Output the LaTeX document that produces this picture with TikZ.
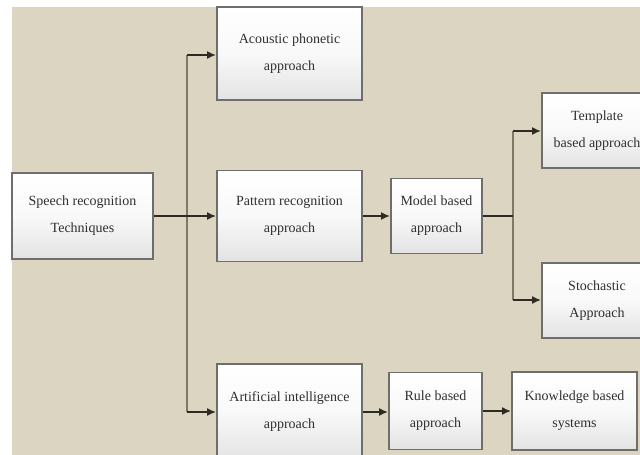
\documentclass[tikz,border=0pt]{standalone}
\usepackage{fontspec}
\setmainfont{Liberation Serif}
\usetikzlibrary{arrows.meta}
\definecolor{bg}{HTML}{DBD5C1}
\definecolor{edge}{HTML}{6E6E6A}
\definecolor{arr}{HTML}{2E2B24}
\definecolor{trunk}{HTML}{7E7866}
\definecolor{txt}{HTML}{2F2F2F}
\begin{document}
\begin{tikzpicture}[x=1pt,y=-1pt,
  box/.style={draw=edge, line width=1.8pt, top color=white, bottom color=gray!22, middle color=gray!5,
    align=center, text=txt, font=\fontsize{14}{27}\selectfont, inner sep=0pt},
  conn/.style={draw=arr, line width=2.2pt, -{Latex[length=9pt,width=8pt]}},
  plainline/.style={draw=arr, line width=2.2pt},
  link/.style={draw=trunk, line width=2pt}]
\useasboundingbox (0,0) rectangle (640,455);
\clip (0,0) rectangle (640,455);
\fill[white] (0,0) rectangle (640,455);
\fill[bg] (12,7) rectangle (640,455);

\node[box, minimum width=141pt, minimum height=86pt] (speech) at (82.5,216) {Speech recognition\\Techniques};
\node[box, minimum width=145pt, minimum height=93pt] (acoustic) at (289.5,53.5) {Acoustic phonetic\\approach};
\node[box, minimum width=145pt, minimum height=91pt] (pattern) at (289.5,216) {Pattern recognition\\approach};
\node[box, minimum width=145pt, minimum height=96pt] (ai) at (289.5,412) {Artificial intelligence\\approach};
\node[box, minimum width=91pt, minimum height=75pt] (model) at (436.5,216) {Model based\\approach};
\node[box, minimum width=110pt, minimum height=75pt] (template) at (597,130.5) {Template\\based approach};
\node[box, minimum width=110pt, minimum height=75pt] (stochastic) at (597,300.5) {Stochastic\\Approach};
\node[box, minimum width=93pt, minimum height=77pt] (rule) at (435.5,411) {Rule based\\approach};
\node[box, minimum width=125pt, minimum height=78pt] (knowledge) at (574.5,411) {Knowledge based\\systems};

\coordinate (t1) at (187,55);
\coordinate (t2) at (187,412);
\coordinate (b) at (513,216);
\coordinate (b1) at (513,131);
\coordinate (b2) at (513,300);

\draw[link] (t1) -- (t2);
\draw[conn] (t1) -- (t1 -| acoustic.west);
\draw[conn] (t2) -- (t2 -| ai.west);
\draw[conn] (speech.east) -- (speech.east -| pattern.west);
\draw[conn] (pattern.east) -- (model.west);
\draw[link] (b1) -- (b2);
\draw[plainline] (model.east) -- (b);
\draw[conn] (b1) -- (b1 -| template.west);
\draw[conn] (b2) -- (b2 -| stochastic.west);
\draw[conn] (ai.east) -- (ai.east -| rule.west);
\draw[conn] (rule.east) -- (rule.east -| knowledge.west);
\end{tikzpicture}
\end{document}
